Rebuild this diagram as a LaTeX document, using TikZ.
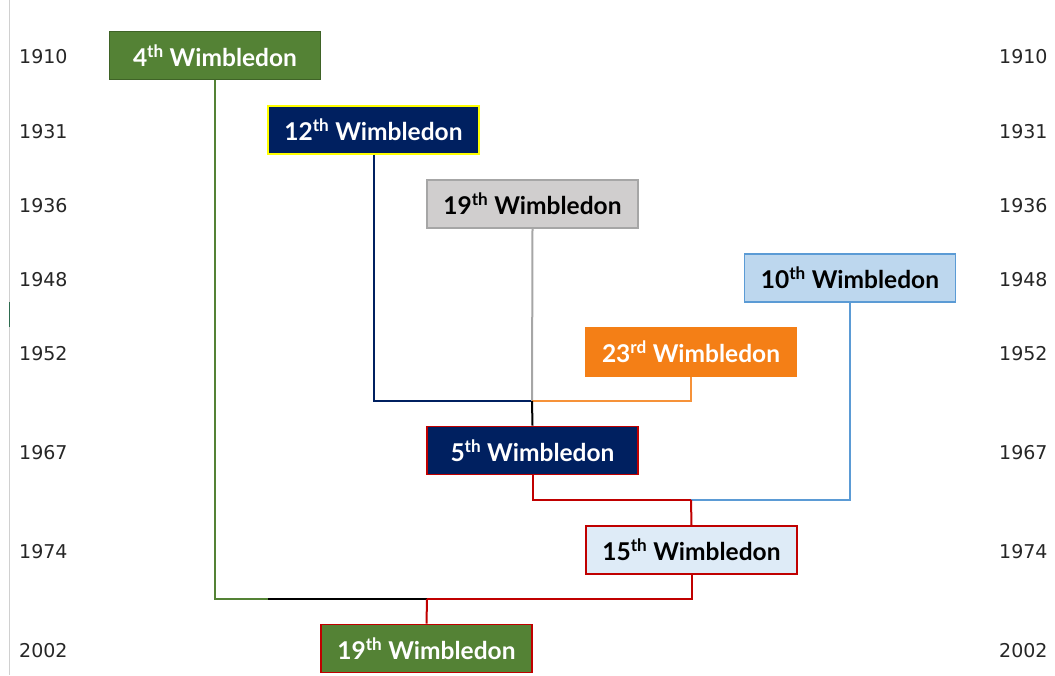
\documentclass[tikz,border=0pt]{standalone}
\usepackage{fontspec}
\setmainfont{Lato}
\newfontfamily\yearfont{DejaVu Sans}
\definecolor{wgreen}{HTML}{548235}
\definecolor{wgreenb}{HTML}{3F6327}
\definecolor{wnavy}{HTML}{002060}
\definecolor{wyellow}{HTML}{FFFF00}
\definecolor{wgray}{HTML}{D0CECE}
\definecolor{wgrayb}{HTML}{A6A6A6}
\definecolor{wlblue}{HTML}{BDD7EE}
\definecolor{wblueb}{HTML}{5B9BD5}
\definecolor{worange}{HTML}{F47F16}
\definecolor{wred}{HTML}{C00000}
\definecolor{wpale}{HTML}{DEEBF7}
\definecolor{wline}{HTML}{D0D0D0}
\definecolor{wteal}{HTML}{2E6B4F}
\tikzset{
  wbox/.style={draw, line width=1.6pt, minimum width=211pt, minimum height=48pt, inner sep=0pt,
    font=\fontsize{24.5}{28}\selectfont\bfseries},
  yr/.style={font=\yearfont\fontsize{19}{22}\selectfont, text=black!85, anchor=west, inner sep=0pt},
  conn/.style={line width=2pt}
}
\begin{document}
\begin{tikzpicture}[x=1pt,y=-1pt]
\useasboundingbox (0,0) rectangle (1055,675);
\draw[wline, line width=1pt] (9.5,0) -- (9.5,675);
\draw[wteal, line width=1pt] (9.5,302) -- (9.5,327);
% year labels
\foreach \y/\t/\n in {56.5/1910/a,131.5/1931/b,205.5/1936/c,279.5/1948/d,353.5/1952/e,452.5/1967/f,551.5/1974/g,650.5/2002/h}{
  \node[yr] (L\n) at (19,\y) {\t};
  \node[yr] (R\n) at (999,\y) {\t};
}
% boxes
\node[wbox, fill=wgreen, draw=wgreenb, text=white] (b4) at (215,55.5) {4\textsuperscript{th} Wimbledon};
\node[wbox, fill=wnavy, draw=wyellow, text=white] (b12) at (373.5,130) {12\textsuperscript{th} Wimbledon};
\node[wbox, fill=wgray, draw=wgrayb, text=black] (b19) at (532.5,204) {19\textsuperscript{th} Wimbledon};
\node[wbox, fill=wlblue, draw=wblueb, text=black] (b10) at (850,278) {10\textsuperscript{th} Wimbledon};
\node[wbox, fill=worange, draw=worange, text=white] (b23) at (691,352) {23\textsuperscript{rd} Wimbledon};
\node[wbox, fill=wnavy, draw=wred, text=white] (b5) at (532.5,450.5) {5\textsuperscript{th} Wimbledon};
\node[wbox, fill=wpale, draw=wred, text=black] (b15) at (691.5,550) {15\textsuperscript{th} Wimbledon};
\node[wbox, fill=wgreen, draw=wred, text=white] (b19b) at (426.5,648.5) {19\textsuperscript{th} Wimbledon};
% junction coordinates
\coordinate (j1) at (532,401);
\coordinate (j2) at (691,500);
\coordinate (j3) at (427,599);
\coordinate (j3g) at (268,599);
% connectors
\draw[conn, wnavy] (b12.south) |- (j1);
\draw[conn, wgrayb] (b19.south) -- (j1);
\draw[conn, worange!85] (b23.south) |- (j1);
\draw[conn, black] (j1) -- (b5.north);
\draw[conn, wred] (b5.south) |- (j2);
\draw[conn, wblueb] (b10.south) |- (j2);
\draw[conn, wred] (j2) -- (b15.north);
\draw[conn, wgreen] (b4.south) |- (j3g);
\draw[conn, black] (j3g) -- (j3);
\draw[conn, wred] (b15.south) |- (j3);
\draw[conn, wred] (j3) -- (b19b.north);
\end{tikzpicture}
\end{document}
